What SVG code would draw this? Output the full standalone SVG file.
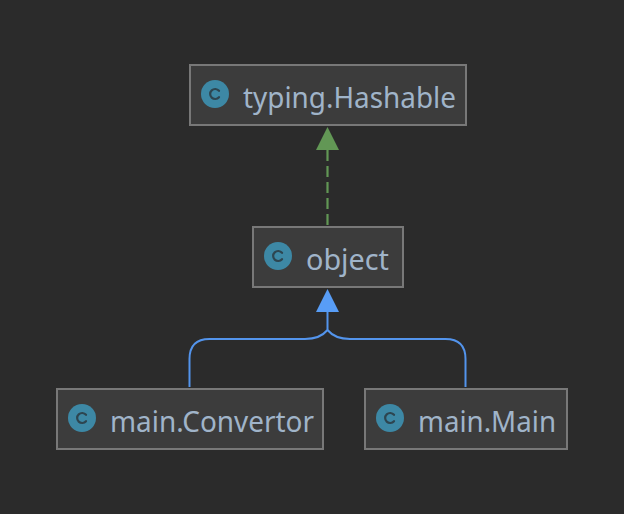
<svg xmlns="http://www.w3.org/2000/svg" width="624" height="514" viewBox="0 0 624 514">
<style>
.box{fill:#3c3c3c;stroke:#787878;stroke-width:2}
.ic{fill:#3d88a5}
.g{fill:none;stroke:#2d4550;stroke-width:2.2;stroke-linecap:round}
.t{font-family:"Noto Sans","Open Sans","DejaVu Sans",sans-serif;font-size:29px;fill:#a0b4c9}
.blue{fill:none;stroke:#5394ec;stroke-width:2}
.green{fill:none;stroke:#629755;stroke-width:2.2;stroke-dasharray:11 5}
</style>
<defs>
<g id="cicon"><circle cx="0" cy="0" r="14" class="ic"/><path class="g" d="M4-3.2A5 5 0 1 0 4 3.2"/></g>
</defs>
<rect width="624" height="514" fill="#2b2b2b"/>
<g id="connectors">
<path class="green" d="M327.500 225V150"/>
<polygon points="327.500,127 339,150 316,150" fill="#629755"/>
<path class="blue" d="M189.500 387V359Q189.500 339 209.500 339H305Q320 339 327.500 330V312M465.500 387V359Q465.500 339 445.500 339H350Q335 339 327.500 330"/>
<polygon points="327.500,289 339,312 316,312" fill="#589df6"/>
</g>
<g id="typing-hashable"><rect class="box" x="190" y="65" width="276" height="60"/><use href="#cicon" x="215" y="94"/><text class="t" x="243" y="108" textLength="213" lengthAdjust="spacingAndGlyphs">typing.Hashable</text></g>
<g id="object"><rect class="box" x="253" y="227" width="150" height="60"/><use href="#cicon" x="278" y="256"/><text class="t" x="306" y="270" textLength="83" lengthAdjust="spacingAndGlyphs">object</text></g>
<g id="main-convertor"><rect class="box" x="57" y="389" width="266" height="60"/><use href="#cicon" x="82" y="418"/><text class="t" x="110" y="432" textLength="204" lengthAdjust="spacingAndGlyphs">main.Convertor</text></g>
<g id="main-main"><rect class="box" x="365" y="389" width="202" height="60"/><use href="#cicon" x="390" y="418"/><text class="t" x="418" y="432" textLength="138" lengthAdjust="spacingAndGlyphs">main.Main</text></g>
</svg>
